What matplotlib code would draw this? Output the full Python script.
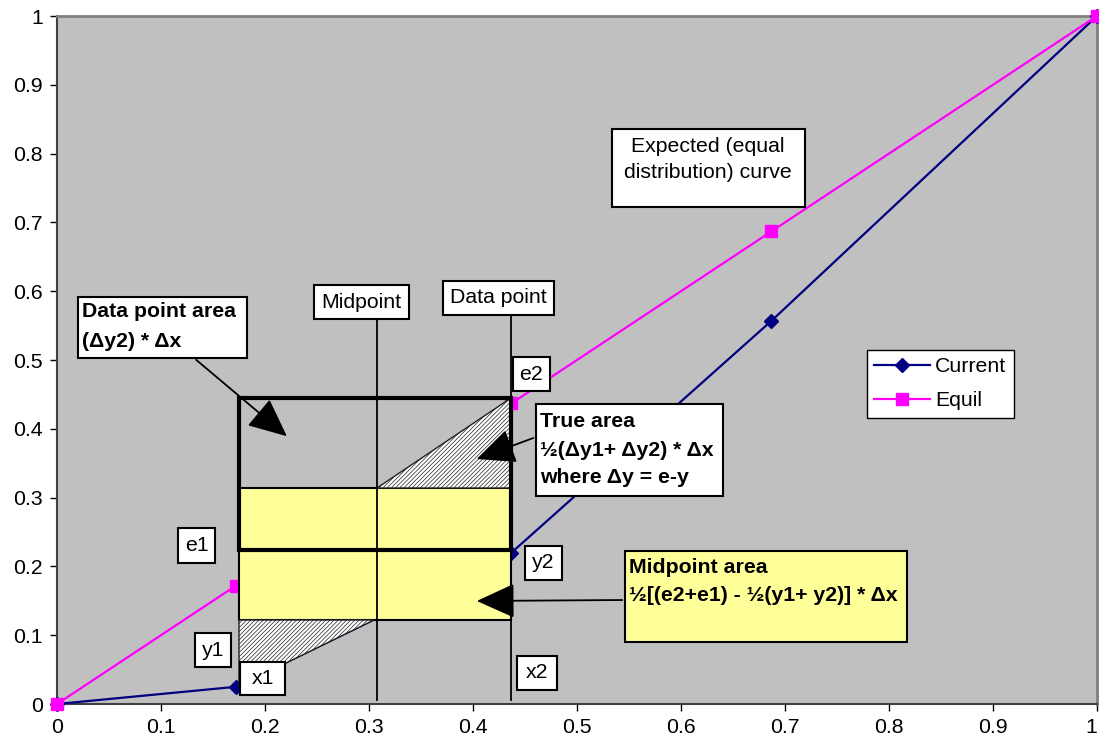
import matplotlib.pyplot as plt
from matplotlib.patches import Rectangle, Polygon, FancyArrowPatch

plt.rcParams['font.family'] = ['Liberation Sans', 'DejaVu Sans']
plt.rcParams['hatch.linewidth'] = 0.5

# data
x_vals = [0, 0.172, 0.437, 0.687, 1]
current = [0, 0.025, 0.22, 0.557, 1]
equil = [0, 0.172, 0.437, 0.687, 1]
ticks = [0, 0.1, 0.2, 0.3, 0.4, 0.5, 0.6, 0.7, 0.8, 0.9, 1]
tick_labels = ['0', '0.1', '0.2', '0.3', '0.4', '0.5', '0.6', '0.7', '0.8', '0.9', '1']

W, H = 1099, 747
L, R, T, B = 57, 1097, 16, 704
FS = 15.3


def P(xp, yp):
    # pixel position of the reference -> data units
    return ((xp - L) / (R - L), (B - yp) / (B - T))


fig = plt.figure(figsize=(W / 100, H / 100), dpi=100)
ax = fig.add_axes([L / W, (H - B) / H, (R - L) / W, (B - T) / H])
ax.set_facecolor('#C0C0C0')
ax.set_xlim(0, 1)
ax.set_ylim(0, 1)

ax.plot(x_vals, current, color='#000080', lw=1.6, marker='D', ms=7.5,
        label='Current', zorder=3, clip_on=False)
ax.plot(x_vals, equil, color='#FF00FF', lw=1.6, marker='s', ms=9,
        label='Equil', zorder=3, clip_on=False)

ax.set_xticks(ticks)
ax.set_xticklabels(tick_labels)
ax.set_yticks(ticks)
ax.set_yticklabels(tick_labels)
ax.tick_params(labelsize=FS, length=5, width=1, direction='out', pad=5)
ax.get_xticklabels()[-1].set_ha('right')
for s in ['left', 'bottom']:
    ax.spines[s].set_color('#404040')
    ax.spines[s].set_linewidth(1.5)
for s in ['top', 'right']:
    ax.spines[s].set_color('#808080')
    ax.spines[s].set_linewidth(2)


def rect(x0, y0, x1, y1, fc='white', lw=1.5, z=5, fill=True):
    a = P(x0, y1)
    b = P(x1, y0)
    ax.add_patch(Rectangle(a, b[0] - a[0], b[1] - a[1], facecolor=fc,
                           edgecolor='black', lw=lw, fill=fill, zorder=z))


def hatched(pts):
    ax.add_patch(Polygon([P(*p) for p in pts], closed=True, facecolor='white',
                         edgecolor='#202020', hatch='////////', lw=1, zorder=4))


def vline(xp, y0, y1):
    a, b = P(xp, y0), P(xp, y1)
    ax.plot([a[0], b[0]], [a[1], b[1]], color='black', lw=1.3, zorder=6)


def arrow(x0, y0, x1, y1):
    ax.add_patch(FancyArrowPatch(P(x0, y0), P(x1, y1),
                                 arrowstyle='-|>,head_length=1.1,head_width=0.5',
                                 mutation_scale=22, color='black', lw=1.3,
                                 zorder=8))


def label_box(x0, y0, x1, y1, text, size=FS):
    rect(x0, y0, x1, y1, z=9)
    cx, cy = P((x0 + x1) / 2, (y0 + y1) / 2)
    ax.text(cx, cy, text, ha='center', va='center', fontsize=size, zorder=10)


def text_box(x0, y0, x1, y1, lines, tx, baselines, fc='white', bold=True,
             size=FS, ha='left'):
    rect(x0, y0, x1, y1, fc=fc, z=9)
    for line, by in zip(lines, baselines):
        px, py = P(tx, by)
        ax.text(px, py, line, ha=ha, va='baseline', fontsize=size,
                fontweight='bold' if bold else 'normal', zorder=10)


# shapes of the diagram
rect(239, 488, 511, 620, fc='#FFFF99', lw=1.5, z=4)
hatched([(377, 488), (511, 398), (511, 488)])
hatched([(239, 620), (374, 620), (239, 686)])
rect(239, 398, 511, 550, lw=3, z=7, fill=False)
vline(377, 319, 700)
vline(511, 315, 700)

arrow(194, 358, 289, 438)
arrow(536, 437, 474, 460)
arrow(625, 600, 474, 601)

# text boxes
text_box(78, 297, 247, 358, ['Data point area', '(Δy2) * Δx'], 82, [317, 347])
text_box(612, 129, 805, 207, ['Expected (equal', 'distribution) curve'],
         708, [152, 178], bold=False, ha='center')
text_box(536, 404, 723, 496,
         ['True area', '½(Δy1+ Δy2) * Δx', 'where Δy = e-y'],
         540, [427, 456, 483])
text_box(625, 551, 907, 642,
         ['Midpoint area', '½[(e2+e1) - ½(y1+ y2)] * Δx'],
         629, [573, 601], fc='#FFFF99')

label_box(314, 285, 409, 319, 'Midpoint')
label_box(443, 281, 554, 315, 'Data point')
label_box(513, 357, 550, 391, 'e2')
label_box(178, 528, 215, 563, 'e1')
label_box(195, 633, 231, 667, 'y1')
label_box(240, 662, 285, 695, 'x1')
label_box(525, 546, 562, 580, 'y2')
label_box(517, 656, 557, 690, 'x2')

leg = ax.legend(loc='upper left', bbox_to_anchor=P(867, 350), fontsize=FS,
                frameon=True, fancybox=False, edgecolor='black',
                borderpad=0.35, borderaxespad=0, handlelength=2.6,
                labelspacing=0.7, handletextpad=0.25)
leg.get_frame().set_linewidth(1)
leg.get_frame().set_facecolor('white')
leg.get_frame().set_alpha(1)
leg.set_zorder(10)

fig.savefig('out.png', dpi=100)
